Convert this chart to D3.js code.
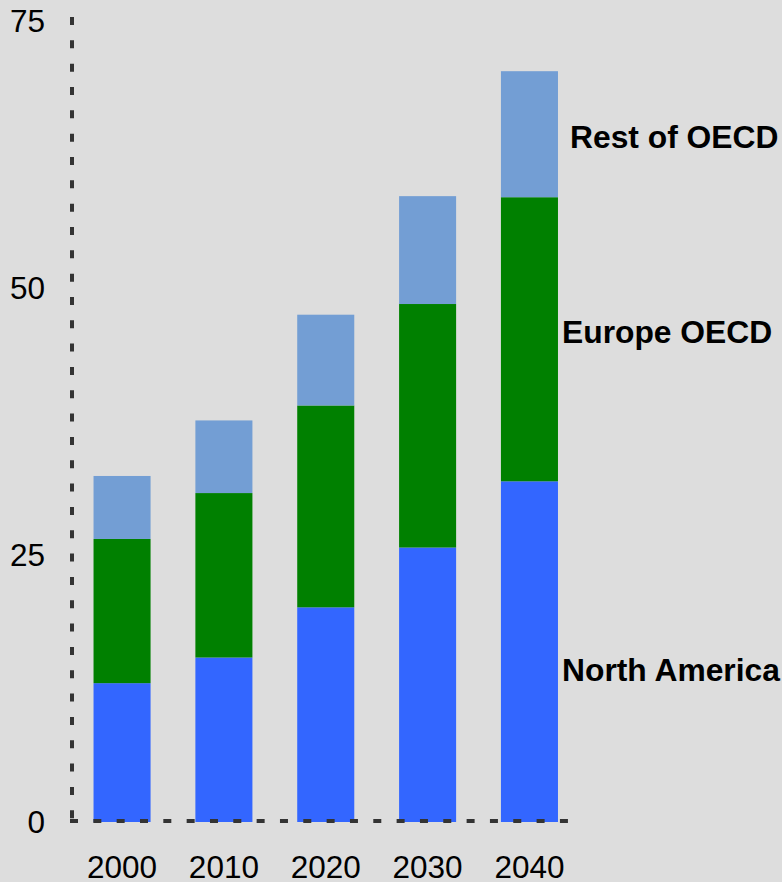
<!DOCTYPE html>
<html>
<head>
<meta charset="utf-8">
<script src="https://cdn.jsdelivr.net/npm/d3@7"></script>
<style>
  html, body { margin: 0; padding: 0; background: #dddddd; }
  svg { display: block; }
  text { font-family: "Liberation Sans", Arial, sans-serif; }
</style>
</head>
<body>
<svg id="chart" width="782" height="882"></svg>
<script>
const years = ["2000", "2010", "2020", "2030", "2040"];
const seriesNames = ["North America", "Europe OECD", "Rest of OECD"];
const northAmerica = [13.0, 15.4, 20.1, 25.7, 31.9];
const europeOECD = [13.5, 15.4, 18.9, 22.8, 26.6];
const restOfOECD = [5.9, 6.8, 8.5, 10.1, 11.8];
const yTicks = [0, 25, 50, 75];
const colors = ["#3366ff", "#008000", "#739ed4"];

const svg = d3.select("#chart");
const W = 782, H = 882;
svg.append("rect").attr("width", W).attr("height", H).attr("fill", "#dddddd");

const table = years.map((yr, i) => ({
  year: yr,
  "North America": northAmerica[i],
  "Europe OECD": europeOECD[i],
  "Rest of OECD": restOfOECD[i]
}));
const stacked = d3.stack().keys(seriesNames)(table);

const x = d3.scaleBand().domain(years).range([72.5, 579]).paddingInner(0.44).paddingOuter(0.2065);
const y = d3.scaleLinear().domain([0, 75]).range([822, 21]);

// bars
svg.append("g").selectAll("g").data(stacked).join("g")
  .attr("fill", (d, i) => colors[i])
  .selectAll("rect").data(d => d).join("rect")
  .attr("x", d => x(d.data.year))
  .attr("width", x.bandwidth())
  .attr("y", d => y(d[1]))
  .attr("height", d => y(d[0]) - y(d[1]));

// axes (dashed)
svg.append("line")
  .attr("x1", 72).attr("x2", 72).attr("y1", 17).attr("y2", 822)
  .attr("stroke", "#333").attr("stroke-width", 4).attr("stroke-dasharray", "8 15.33");
svg.append("line")
  .attr("x1", 70).attr("x2", 568).attr("y1", 821).attr("y2", 821)
  .attr("stroke", "#333").attr("stroke-width", 4).attr("stroke-dasharray", "8 15.33");

// y tick labels
svg.append("g").selectAll("text").data(yTicks).join("text")
  .attr("x", 45).attr("y", d => y(d)).attr("dy", "0.35em")
  .attr("text-anchor", "end").attr("font-size", 31.5).attr("fill", "#000")
  .text(d => d);

// x tick labels
svg.append("g").selectAll("text").data(years).join("text")
  .attr("x", d => x(d) + x.bandwidth() / 2).attr("y", 878)
  .attr("text-anchor", "middle").attr("font-size", 31.5).attr("fill", "#000")
  .text(d => d);

// series labels
const labelPos = [[562, 681], [562, 343], [570, 148]];
svg.append("g").selectAll("text").data(seriesNames).join("text")
  .attr("x", (d, i) => labelPos[i][0]).attr("y", (d, i) => labelPos[i][1])
  .attr("font-size", 31.8).attr("font-weight", "bold").attr("fill", "#000")
  .text(d => d);
</script>
</body>
</html>
